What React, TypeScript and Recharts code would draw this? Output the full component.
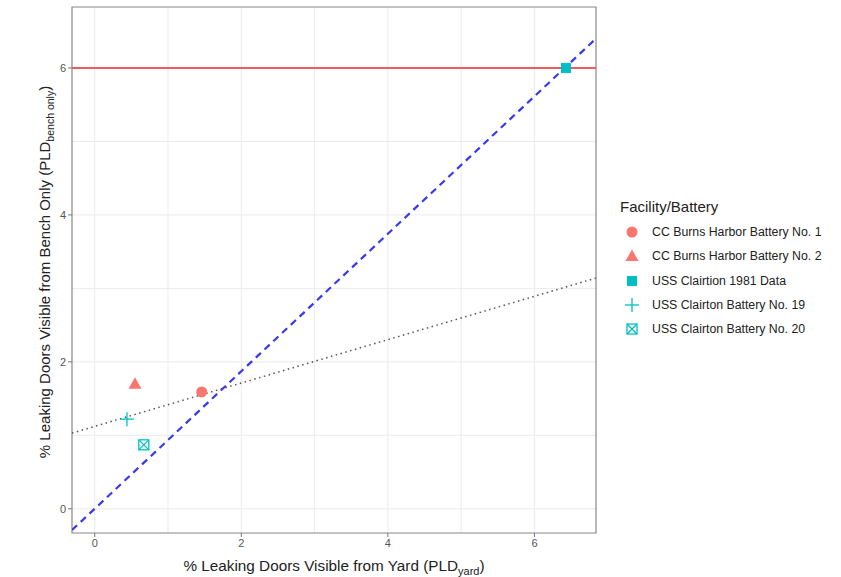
import React from "react";
import {
  ScatterChart,
  Scatter,
  XAxis,
  YAxis,
  CartesianGrid,
  ReferenceLine,
  ReferenceArea,
} from "recharts";

const RED = "#F8766D";
const TEAL = "#00BFC4";
const FONT = "'Liberation Sans', Arial, sans-serif";

const xDomain = [-0.31, 6.84];
const yDomain = [-0.33, 6.83];
const xTicks = [0, 2, 4, 6];
const yTicks = [0, 2, 4, 6];
const gridValues = [0, 1, 2, 3, 4, 5, 6];

const burns1 = [{ x: 1.46, y: 1.59 }];
const burns2 = [{ x: 0.55, y: 1.7 }];
const clairton1981 = [{ x: 6.43, y: 6.0 }];
const clairton19 = [{ x: 0.44, y: 1.22 }];
const clairton20 = [{ x: 0.67, y: 0.87 }];

const standardY = 6;
const blueLine = [
  { x: -0.31, y: -0.29 },
  { x: 6.84, y: 6.4 },
];
const dottedLine = [
  { x: -0.31, y: 1.03 },
  { x: 6.84, y: 3.14 },
];

const seriesNames = [
  "CC Burns Harbor Battery No. 1",
  "CC Burns Harbor Battery No. 2",
  "USS Clairtion 1981 Data",
  "USS Clairton Battery No. 19",
  "USS Clairton Battery No. 20",
];

const Circle = (p: any) => <circle cx={p.cx} cy={p.cy} r={5.5} fill={RED} />;
const Triangle = (p: any) => (
  <polygon
    points={`${p.cx},${p.cy - 6.5} ${p.cx + 6.5},${p.cy + 5} ${p.cx - 6.5},${p.cy + 5}`}
    fill={RED}
  />
);
const Square = (p: any) => (
  <rect x={p.cx - 5} y={p.cy - 5} width={10} height={10} fill={TEAL} />
);
const Plus = (p: any) => (
  <g stroke={TEAL} strokeWidth={1.3}>
    <line x1={p.cx - 7} y1={p.cy} x2={p.cx + 7} y2={p.cy} />
    <line x1={p.cx} y1={p.cy - 7} x2={p.cx} y2={p.cy + 7} />
  </g>
);
const BoxX = (p: any) => (
  <g stroke={TEAL} strokeWidth={1.3} fill="none">
    <rect x={p.cx - 5} y={p.cy - 5} width={10} height={10} />
    <line x1={p.cx - 5} y1={p.cy - 5} x2={p.cx + 5} y2={p.cy + 5} />
    <line x1={p.cx - 5} y1={p.cy + 5} x2={p.cx + 5} y2={p.cy - 5} />
  </g>
);

const shapes = [Circle, Triangle, Square, Plus, BoxX];

const LegendBox = () => (
  <div
    style={{
      position: "absolute",
      left: 620,
      top: 198,
      width: 221,
      fontFamily: FONT,
      color: "#222",
    }}
  >
    <div style={{ fontSize: 15, lineHeight: "18px", marginBottom: 4 }}>Facility/Battery</div>
    {seriesNames.map((n, i) => {
      const S = shapes[i];
      return (
        <div key={n} style={{ display: "flex", alignItems: "center", height: 24.3 }}>
          <svg width={24} height={20} style={{ marginRight: 8 }}>
            <S cx={12} cy={10} />
          </svg>
          <span style={{ fontSize: 12.3, color: "#222" }}>{n}</span>
        </div>
      );
    })}
  </div>
);

const XLabel = (props: any) => {
  const vb = props.viewBox || {};
  const cx = vb.x + vb.width / 2;
  return (
    <text x={cx} y={vb.y + 38} textAnchor="middle" fontFamily={FONT} fontSize={15.3} fill="#222">
      <tspan>% Leaking Doors Visible from Yard (PLD</tspan>
      <tspan fontSize={11} dy={4}>yard</tspan>
      <tspan dy={-4}>)</tspan>
    </text>
  );
};

const YLabel = (props: any) => {
  const vb = props.viewBox || {};
  const cy = vb.y + vb.height / 2 + 2;
  const x = 50;
  return (
    <text
      x={x}
      y={cy}
      textAnchor="middle"
      fontFamily={FONT}
      fontSize={15}
      fill="#222"
      transform={`rotate(-90 ${x} ${cy})`}
    >
      <tspan>% Leaking Doors Visible from Bench Only (PLD</tspan>
      <tspan fontSize={10.5} dy={4}>bench only</tspan>
      <tspan dy={-4}>)</tspan>
    </text>
  );
};

export default function App() {
  return (
    <div style={{ position: "absolute", left: 0, top: 0, width: 841, height: 577, background: "#fff" }}>
      <ScatterChart
        width={841}
        height={577}
        margin={{ top: 7, right: 245, bottom: 0, left: 20 }}
      >
        <CartesianGrid
          stroke="#ebebeb"
          horizontalValues={gridValues}
          verticalValues={gridValues}
        />
        <XAxis
          type="number"
          dataKey="x"
          domain={xDomain}
          ticks={xTicks}
          allowDataOverflow
          height={44}
          axisLine={false}
          tickLine={{ stroke: "#777" }}
          tickSize={4}
          tick={{ fill: "#555", fontSize: 11, fontFamily: FONT }}
          label={<XLabel />}
        />
        <YAxis
          type="number"
          dataKey="y"
          domain={yDomain}
          ticks={yTicks}
          allowDataOverflow
          width={52}
          axisLine={false}
          tickLine={{ stroke: "#777" }}
          tickSize={4}
          tick={{ fill: "#555", fontSize: 11, fontFamily: FONT }}
          label={<YLabel />}
        />
        <ReferenceArea
          x1={xDomain[0]}
          x2={xDomain[1]}
          y1={yDomain[0]}
          y2={yDomain[1]}
          fill="none"
          fillOpacity={0}
          stroke="#888"
          strokeWidth={1.2}
          ifOverflow="extendDomain"
        />
        <ReferenceLine y={standardY} stroke="#F05A60" strokeWidth={2} />
        <ReferenceLine
          segment={dottedLine}
          stroke="#555"
          strokeWidth={1.5}
          strokeDasharray="1.5 3.5"
          ifOverflow="hidden"
        />
        <ReferenceLine
          segment={blueLine}
          stroke="#3838EE"
          strokeWidth={2.2}
          strokeDasharray="7 5"
          ifOverflow="hidden"
        />
        <Scatter name={seriesNames[0]} data={burns1} shape={Circle} isAnimationActive={false} />
        <Scatter name={seriesNames[1]} data={burns2} shape={Triangle} isAnimationActive={false} />
        <Scatter name={seriesNames[2]} data={clairton1981} shape={Square} isAnimationActive={false} />
        <Scatter name={seriesNames[3]} data={clairton19} shape={Plus} isAnimationActive={false} />
        <Scatter name={seriesNames[4]} data={clairton20} shape={BoxX} isAnimationActive={false} />
      </ScatterChart>
      <LegendBox />
    </div>
  );
}
